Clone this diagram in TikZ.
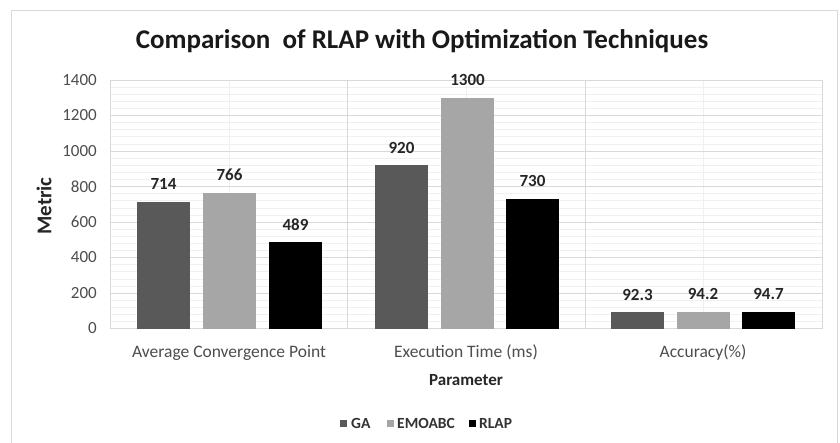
\documentclass[tikz,border=0pt]{standalone}
\usepackage{fontspec}
\setmainfont{Carlito}
\definecolor{gaC}{HTML}{595959}
\definecolor{emC}{HTML}{A6A6A6}
\definecolor{rlC}{HTML}{000000}
\definecolor{gridMaj}{HTML}{D9D9D9}
\definecolor{gridMin}{HTML}{F0F0F0}
\definecolor{txtC}{HTML}{4D4D4D}
\tikzset{
  ticklab/.style={anchor=east, text=txtC, font=\fontsize{17}{20}\selectfont, inner sep=0pt},
  catlab/.style={text=txtC, font=\fontsize{17.5}{20}\selectfont, inner sep=0pt},
  vallab/.style={text=black!85, font=\bfseries\fontsize{17}{20}\selectfont, inner sep=0pt},
  leglab/.style={anchor=west, text=black!80, font=\bfseries\fontsize{15.5}{18}\selectfont, inner sep=0pt},
  legbox/.style={minimum width=7pt, minimum height=7pt, inner sep=0pt, draw=none},
}
\begin{document}
\begin{tikzpicture}[x=1pt,y=-1pt]
\useasboundingbox (0,0) rectangle (840,442);
\fill[white] (0,0) rectangle (840,442);
% outer frame
\draw[gridMaj, line width=0.8pt] (11,445) -- (11,10) -- (837,10) -- (837,445);
% minor gridlines
\foreach \v in {40,80,...,1360} {
  \draw[gridMin, line width=0.6pt] (110,{328.5-\v*0.1775}) -- (822,{328.5-\v*0.1775});
}
\foreach \xx in {229,466,703} {
  \draw[gridMin, line width=0.6pt] (\xx,80) -- (\xx,328.5);
}
% major gridlines
\foreach \v in {200,400,...,1400} {
  \draw[gridMaj, line width=0.8pt] (110,{328.5-\v*0.1775}) -- (822,{328.5-\v*0.1775});
}
\draw[gridMaj, line width=0.8pt] (110,80) -- (110,328.5);
\draw[gridMaj, line width=0.8pt] (347,80) -- (347,328.5);
\draw[gridMaj, line width=0.8pt] (585,80) -- (585,328.5);
\draw[gridMaj, line width=0.8pt] (822,80) -- (822,328.5);
\draw[gridMaj, line width=0.8pt] (110,328.5) -- (822,328.5);
% tick labels
\foreach \v/\nm in {0/t0,200/t1,400/t2,600/t3,800/t4,1000/t5,1200/t6,1400/t7} {
  \node[ticklab] (\nm) at (97,{328.5-\v*0.1775}) {\v};
}
% bars and value labels
\foreach \cx/\val/\col/\nm in {
  163.5/714/gaC/a1, 229.5/766/emC/a2, 295.5/489/rlC/a3,
  401.5/920/gaC/b1, 467.5/1300/emC/b2, 532.5/730/rlC/b3,
  637.5/92.3/gaC/c1, 703/94.2/emC/c2, 768.5/94.7/rlC/c3} {
  \fill[\col] ({\cx-26.5},328.5) rectangle ({\cx+26.5},{328.5-\val*0.1775});
  \node[vallab] (\nm) at (\cx,{328.5-\val*0.1775-17.5}) {\val};
}
% category labels
\node[catlab] (cat1) at (229,352.5) {Average Convergence Point};
\node[catlab] (cat2) at (466,352.5) {Execution Time (ms)};
\node[catlab] (cat3) at (703,352.5) {Accuracy(\%)};
% axis titles
\node[text=black!85, font=\bfseries\fontsize{17}{20}\selectfont, inner sep=0pt] (xtitle) at (466,380) {Parameter};
\node[text=black!85, font=\bfseries\fontsize{21}{24}\selectfont, inner sep=0pt, rotate=90] (ytitle) at (44,206) {Metric};
% chart title
\node[text=black!90, font=\bfseries\fontsize{27}{30}\selectfont, inner sep=0pt] (title) at (422,41) {Comparison\ \ of RLAP with Optimization Techniques};
% legend
\node[legbox, fill=gaC] (lg1) at (343.5,423) {};
\node[leglab] (lt1) at (351,423) {GA};
\node[legbox, fill=emC] (lg2) at (390,423) {};
\node[leglab] (lt2) at (397,423) {EMOABC};
\node[legbox, fill=rlC] (lg3) at (472,423) {};
\node[leglab] (lt3) at (479,423) {RLAP};
\end{tikzpicture}
\end{document}
